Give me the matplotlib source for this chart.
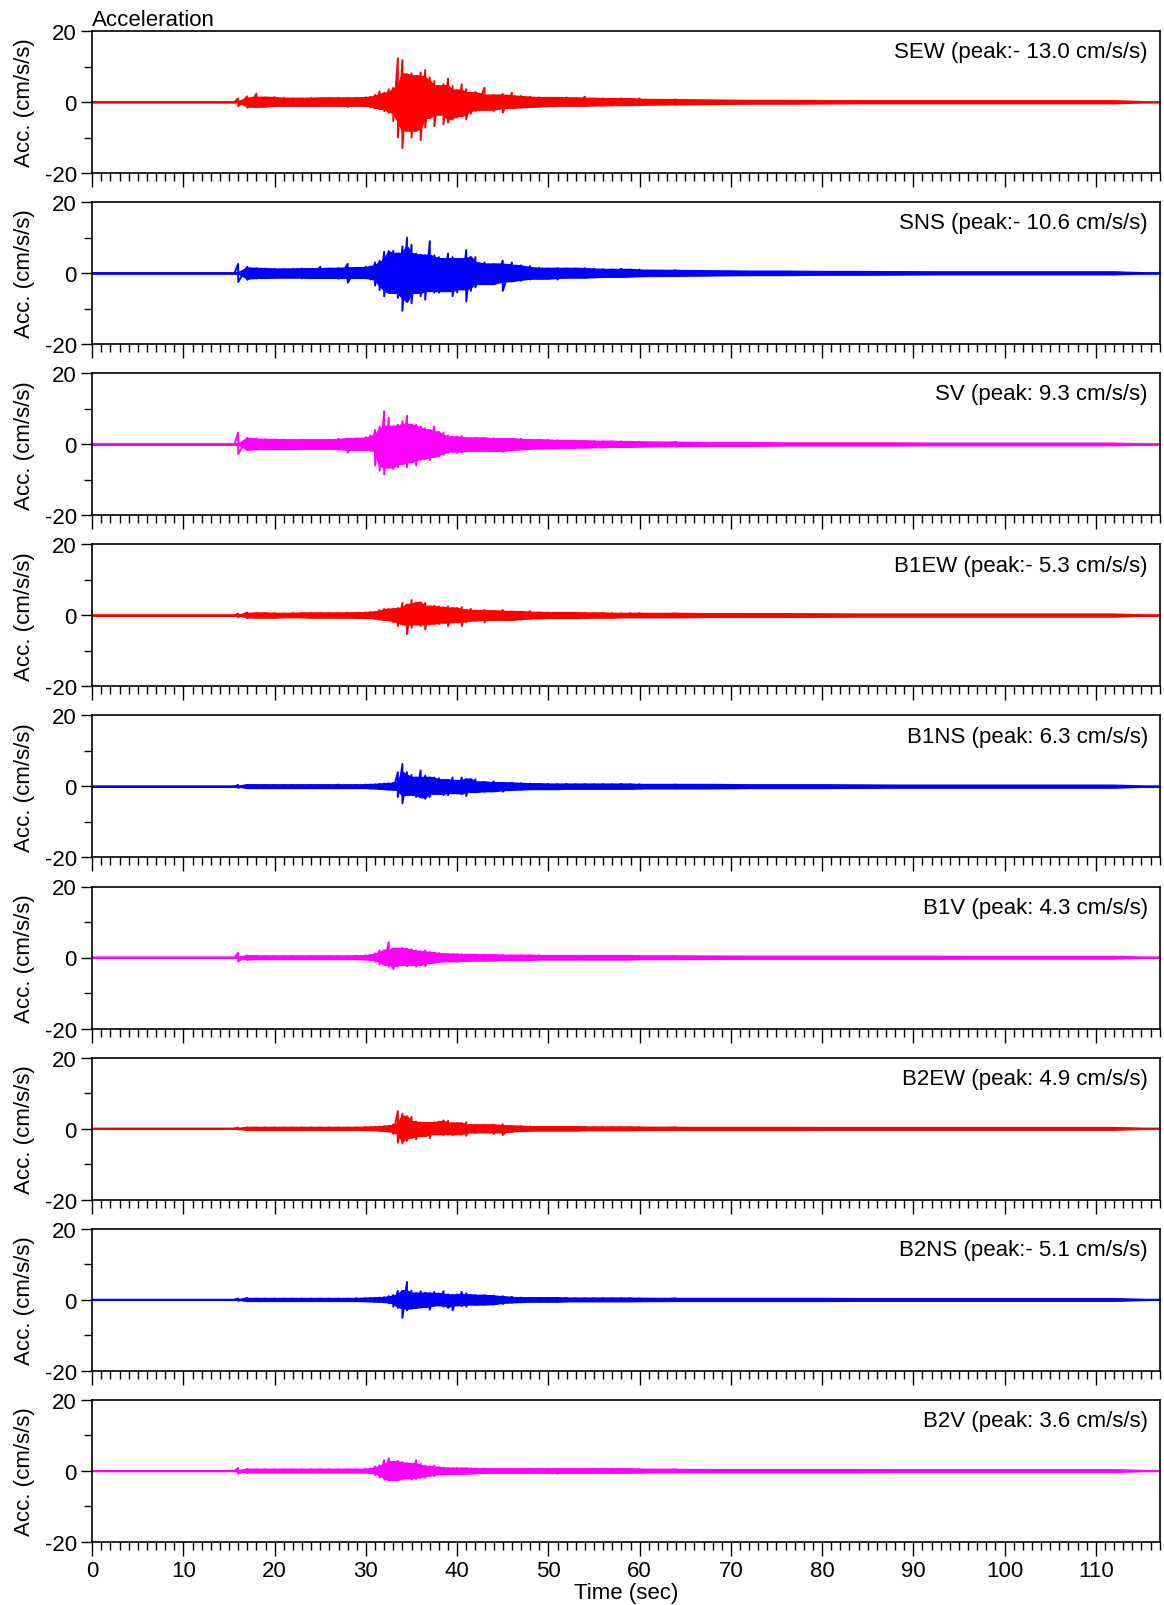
import matplotlib
matplotlib.use("Agg")
import matplotlib.pyplot as plt
from matplotlib.ticker import MultipleLocator
import numpy as np

plt.rcParams['font.family'] = ['Liberation Sans', 'DejaVu Sans']
plt.rcParams['axes.unicode_minus'] = False

# sampling grid of the envelope readings (s)
t_grid = np.concatenate([np.arange(16, 31), np.arange(30.5, 42.01, 0.5), np.arange(43, 61)])
t_tail = np.arange(64, 117, 4)
onset = 15.6
t_end = 117

names = ["SEW (peak:- 13.0 cm/s/s)", "SNS (peak:- 10.6 cm/s/s)", "SV (peak: 9.3 cm/s/s)",
         "B1EW (peak:- 5.3 cm/s/s)", "B1NS (peak: 6.3 cm/s/s)", "B1V (peak: 4.3 cm/s/s)",
         "B2EW (peak: 4.9 cm/s/s)", "B2NS (peak:- 5.1 cm/s/s)", "B2V (peak: 3.6 cm/s/s)"]
colors = ['#ff0000', '#0000ff', '#ff00ff'] * 3

# upper / lower extremes of the trace read at t_grid (cm/s/s)
sew_up = [1.0, 1.6, 2.3, 1.3, 1.4, 1.2, 1.0, 1.0, 1.1, 1.1, 1.1, 1.2, 1.1, 1.2, 1.3,
          1.5, 2.0, 3.0, 2.5, 3.6, 4.0, 12.3, 11.8, 7.8, 8.1, 7.3, 8.3, 9.0, 6.9, 5.9, 4.5, 5.0, 6.6, 4.5, 3.3, 5.0, 3.6, 2.6, 2.8,
          4.0, 1.9, 2.3, 2.6, 1.7, 1.5, 1.3, 1.2, 1.2, 1.3, 1.1, 1.5, 1.0, 1.0, 0.9, 1.0, 0.9, 1.0]
sew_lo = [-1.2, -1.6, -1.5, -1.3, -1.2, -1.0, -1.0, -1.1, -1.0, -1.0, -1.1, -1.0, -1.4, -1.0, -1.2,
          -1.5, -1.8, -2.0, -2.6, -3.0, -5.4, -10.0, -13.0, -8.0, -10.0, -8.0, -10.8, -7.2, -4.4, -6.8, -3.5, -6.3, -5.8, -4.9, -4.4, -3.9, -4.9, -3.3, -2.5,
          -2.1, -2.5, -3.0, -1.6, -1.6, -1.4, -1.3, -1.2, -1.1, -1.0, -1.0, -1.0, -1.0, -0.9, -1.0, -0.8, -0.9, -0.9]
sns_up = [2.6, 1.8, 1.4, 1.3, 1.2, 1.1, 1.2, 1.3, 1.2, 1.8, 1.3, 1.4, 2.6, 1.5, 1.8,
          1.9, 3.0, 3.5, 6.0, 6.2, 6.3, 5.5, 7.5, 10.0, 8.0, 5.5, 5.2, 5.0, 9.0, 5.0, 4.5, 4.0, 5.5, 4.5, 4.0, 4.0, 6.5, 4.5, 4.5,
          3.0, 2.5, 3.5, 3.0, 2.2, 2.0, 1.5, 1.3, 1.4, 1.3, 1.3, 1.4, 1.2, 1.1, 1.0, 1.2, 1.0, 1.0]
sns_lo = [-2.5, -1.9, -1.5, -1.3, -1.3, -1.2, -1.2, -1.5, -1.3, -1.4, -1.3, -1.6, -2.7, -1.3, -1.5,
          -1.8, -3.5, -4.8, -6.5, -5.5, -5.5, -7.0, -10.6, -8.0, -8.5, -5.5, -6.5, -7.5, -5.0, -5.5, -5.5, -5.0, -5.0, -6.5, -5.5, -4.5, -8.0, -5.0, -4.0,
          -3.0, -3.0, -5.0, -2.3, -2.2, -1.8, -1.5, -1.5, -1.8, -1.3, -1.2, -1.3, -1.2, -1.1, -1.0, -1.0, -1.0, -0.9]
sv_up = [3.3, 1.8, 1.6, 1.4, 1.3, 1.3, 1.2, 1.3, 1.2, 1.2, 1.3, 1.5, 1.6, 1.6, 2.0,
         2.5, 4.0, 5.0, 9.3, 7.5, 5.0, 5.5, 6.5, 8.0, 5.5, 5.5, 5.0, 4.5, 4.0, 5.0, 3.5, 3.3, 2.5, 2.0, 2.2, 2.3, 1.8, 1.7, 1.8,
         1.8, 1.7, 1.5, 1.5, 1.5, 1.3, 1.2, 1.2, 1.1, 1.0, 1.0, 0.9, 0.9, 0.8, 0.8, 0.8, 0.7, 0.7]
sv_lo = [-2.8, -1.7, -1.5, -1.3, -1.4, -1.3, -1.3, -1.3, -1.2, -1.2, -1.3, -1.5, -2.4, -1.5, -1.5,
         -2.0, -6.0, -7.5, -8.5, -6.5, -7.0, -6.5, -5.5, -6.5, -5.0, -6.0, -4.5, -4.0, -4.5, -3.5, -3.5, -3.0, -2.5, -2.0, -2.5, -2.2, -2.0, -1.8, -1.8,
         -1.8, -2.0, -2.2, -1.8, -1.5, -1.4, -1.2, -1.1, -1.1, -1.0, -1.0, -0.9, -0.9, -0.8, -0.8, -0.7, -0.7, -0.7]
b1ew_up = [0.5, 0.8, 0.6, 0.6, 0.6, 0.5, 0.6, 0.6, 0.6, 0.6, 0.6, 0.6, 0.7, 0.7, 0.8,
           0.9, 1.0, 1.5, 1.8, 1.7, 1.9, 2.0, 3.5, 3.0, 4.3, 3.5, 3.7, 3.5, 2.5, 2.6, 2.5, 2.2, 2.5, 2.0, 2.0, 2.3, 1.5, 1.8, 1.3,
           1.5, 1.2, 1.5, 1.1, 1.0, 1.2, 0.8, 0.8, 0.7, 0.7, 0.7, 0.7, 0.6, 0.6, 0.6, 0.5, 0.6, 0.6]
b1ew_lo = [-0.5, -0.8, -0.6, -0.6, -0.6, -0.6, -0.5, -0.6, -0.6, -0.6, -0.6, -0.6, -0.6, -0.7, -0.7,
           -0.8, -1.0, -1.2, -1.3, -1.5, -2.0, -3.0, -2.5, -5.3, -3.5, -2.5, -3.0, -4.0, -2.5, -2.3, -2.5, -2.0, -3.0, -2.0, -1.8, -3.0, -2.0, -1.5, -1.4,
           -2.0, -1.2, -1.3, -1.2, -1.2, -1.0, -0.8, -0.8, -0.7, -0.8, -0.7, -0.7, -0.6, -0.6, -0.6, -0.6, -0.5, -0.5]
b1ns_up = [0.4, 0.4, 0.4, 0.4, 0.4, 0.4, 0.4, 0.4, 0.4, 0.4, 0.4, 0.5, 0.4, 0.4, 0.5,
           0.5, 0.6, 0.7, 0.8, 0.8, 1.0, 4.0, 6.3, 4.0, 3.2, 2.5, 4.5, 3.0, 2.5, 2.5, 2.3, 1.8, 1.8, 2.5, 1.6, 2.5, 2.0, 2.0, 2.0,
           1.2, 1.4, 1.0, 1.0, 0.9, 0.8, 0.7, 0.7, 0.6, 0.7, 0.6, 0.6, 0.6, 0.6, 0.6, 0.7, 0.6, 0.6]
b1ns_lo = [-0.4, -0.4, -0.4, -0.4, -0.4, -0.4, -0.4, -0.4, -0.4, -0.4, -0.4, -0.4, -0.4, -0.4, -0.5,
           -0.5, -0.6, -0.7, -0.8, -0.8, -1.0, -3.0, -4.8, -2.5, -2.3, -3.0, -3.0, -3.5, -3.0, -2.0, -2.0, -2.5, -2.5, -1.8, -2.0, -2.0, -2.7, -1.5, -1.5,
           -1.5, -1.3, -1.5, -1.0, -0.9, -0.8, -0.7, -0.7, -0.7, -0.7, -0.6, -0.6, -0.6, -0.6, -0.6, -0.6, -0.7, -0.6]
b1v_up = [1.3, 0.6, 0.5, 0.4, 0.4, 0.4, 0.4, 0.4, 0.4, 0.4, 0.4, 0.4, 0.4, 0.5, 0.6,
          0.8, 1.2, 2.0, 2.0, 4.3, 2.5, 2.5, 2.7, 2.5, 2.3, 2.0, 1.7, 2.0, 1.5, 1.4, 1.3, 1.0, 1.0, 0.9, 0.9, 0.9, 0.8, 0.8, 0.8,
          0.7, 0.7, 0.7, 0.6, 0.6, 0.6, 0.6, 0.5, 0.5, 0.5, 0.5, 0.5, 0.5, 0.5, 0.5, 0.5, 0.5, 0.5]
b1v_lo = [-1.1, -0.6, -0.5, -0.4, -0.4, -0.4, -0.4, -0.4, -0.4, -0.4, -0.4, -0.4, -0.4, -0.5, -0.5,
          -0.8, -1.2, -2.0, -2.0, -2.5, -3.3, -2.5, -2.0, -2.5, -2.0, -2.6, -2.0, -2.5, -1.5, -1.5, -1.3, -1.1, -1.0, -1.0, -1.2, -1.0, -0.9, -1.0, -0.8,
          -0.8, -0.8, -0.8, -0.6, -0.6, -0.6, -0.6, -0.5, -0.5, -0.5, -0.5, -0.5, -0.5, -0.5, -0.5, -0.5, -0.5, -0.5]
b2ew_up = [0.3, 0.3, 0.3, 0.3, 0.3, 0.3, 0.3, 0.3, 0.3, 0.3, 0.3, 0.3, 0.3, 0.35, 0.4,
           0.4, 0.5, 0.6, 0.7, 0.8, 1.2, 4.9, 4.2, 3.5, 3.3, 2.0, 1.8, 1.6, 1.6, 1.8, 2.0, 2.3, 2.2, 1.5, 1.5, 1.5, 1.8, 1.0, 1.0,
           1.0, 1.0, 1.2, 0.8, 0.7, 0.6, 0.5, 0.5, 0.5, 0.5, 0.5, 0.5, 0.4, 0.4, 0.4, 0.4, 0.4, 0.4]
b2ew_lo = [-0.3, -0.3, -0.3, -0.3, -0.3, -0.3, -0.3, -0.3, -0.3, -0.3, -0.3, -0.3, -0.3, -0.35, -0.4,
           -0.4, -0.5, -0.6, -0.7, -0.8, -1.5, -4.0, -4.2, -3.5, -2.5, -3.0, -2.0, -2.0, -2.7, -1.5, -1.5, -1.8, -1.5, -1.8, -1.5, -1.6, -2.0, -1.0, -1.2,
           -1.0, -1.5, -1.8, -1.0, -0.7, -0.6, -0.5, -0.5, -0.5, -0.5, -0.5, -0.5, -0.4, -0.4, -0.4, -0.4, -0.4, -0.4]
b2ns_up = [0.3, 0.5, 0.3, 0.3, 0.3, 0.3, 0.3, 0.3, 0.3, 0.3, 0.3, 0.3, 0.3, 0.4, 0.4,
           0.5, 0.5, 0.6, 0.7, 1.0, 1.3, 2.5, 2.5, 5.0, 2.5, 1.8, 2.4, 2.0, 1.8, 2.2, 1.7, 2.4, 1.5, 1.3, 1.5, 2.2, 1.8, 1.3, 1.3,
           1.2, 1.2, 1.0, 0.8, 0.6, 0.5, 0.5, 0.5, 0.5, 0.5, 0.4, 0.4, 0.4, 0.4, 0.4, 0.4, 0.4, 0.4]
b2ns_lo = [-0.3, -0.4, -0.3, -0.3, -0.3, -0.3, -0.3, -0.3, -0.3, -0.3, -0.3, -0.3, -0.3, -0.4, -0.4,
           -0.5, -0.5, -0.6, -0.7, -1.0, -2.0, -2.3, -5.1, -3.0, -2.5, -2.3, -2.2, -2.0, -2.8, -1.8, -1.5, -2.0, -2.3, -3.0, -1.5, -1.8, -2.0, -1.3, -1.5,
           -1.3, -1.3, -1.2, -0.8, -0.7, -0.6, -0.5, -0.5, -0.5, -0.5, -0.4, -0.4, -0.4, -0.4, -0.4, -0.4, -0.4, -0.4]
b2v_up = [0.8, 0.5, 0.4, 0.4, 0.4, 0.4, 0.4, 0.4, 0.4, 0.4, 0.4, 0.4, 0.4, 0.4, 0.5,
          0.7, 1.2, 1.5, 3.0, 3.6, 2.5, 2.8, 2.5, 2.2, 2.0, 3.0, 2.0, 1.5, 1.2, 1.5, 1.0, 0.9, 0.8, 0.7, 0.8, 0.7, 0.7, 0.7, 0.6,
          0.6, 0.5, 0.5, 0.5, 0.5, 0.5, 0.5, 0.5, 0.5, 0.5, 0.5, 0.5, 0.5, 0.5, 0.5, 0.5, 0.5, 0.5]
b2v_lo = [-0.8, -0.5, -0.4, -0.4, -0.4, -0.4, -0.4, -0.4, -0.4, -0.4, -0.4, -0.4, -0.4, -0.4, -0.5,
          -0.6, -1.2, -2.0, -2.5, -2.8, -2.5, -2.6, -2.5, -2.0, -2.5, -2.3, -1.8, -2.0, -1.3, -1.5, -1.0, -0.9, -0.9, -0.8, -0.8, -0.8, -0.8, -0.7, -0.7,
          -0.6, -0.5, -0.5, -0.5, -0.5, -0.5, -0.5, -0.5, -0.8, -0.5, -0.5, -0.5, -0.5, -0.5, -0.5, -0.5, -0.5, -0.5]

# late-coda half-width read at t_tail (cm/s/s)
sew_tail = [0.7, 0.6, 0.5, 0.4, 0.4, 0.35, 0.3, 0.3, 0.3, 0.3, 0.3, 0.3, 0.3, 0.3]
sns_tail = [0.8, 0.7, 0.6, 0.5, 0.5, 0.4, 0.4, 0.35, 0.3, 0.3, 0.3, 0.3, 0.3, 0.3]
sv_tail = [0.6, 0.5, 0.4, 0.4, 0.3, 0.3, 0.3, 0.3, 0.25, 0.25, 0.25, 0.25, 0.25, 0.25]
b1ew_tail = [0.5, 0.5, 0.4, 0.4, 0.4, 0.35, 0.3, 0.3, 0.3, 0.3, 0.3, 0.3, 0.3, 0.3]
b1ns_tail = [0.5, 0.5, 0.5, 0.4, 0.4, 0.4, 0.35, 0.3, 0.3, 0.3, 0.3, 0.3, 0.3, 0.3]
b1v_tail = [0.4, 0.4, 0.35, 0.3, 0.3, 0.3, 0.3, 0.3, 0.3, 0.25, 0.25, 0.25, 0.25, 0.25]
b2ew_tail = [0.35, 0.3, 0.3, 0.3, 0.3, 0.25, 0.25, 0.25, 0.25, 0.25, 0.25, 0.25, 0.25, 0.25]
b2ns_tail = [0.35, 0.3, 0.3, 0.3, 0.3, 0.3, 0.25, 0.25, 0.25, 0.25, 0.25, 0.25, 0.25, 0.25]
b2v_tail = [0.4, 0.35, 0.3, 0.3, 0.3, 0.3, 0.3, 0.25, 0.25, 0.25, 0.25, 0.25, 0.25, 0.25]

ups = [sew_up, sns_up, sv_up, b1ew_up, b1ns_up, b1v_up, b2ew_up, b2ns_up, b2v_up]
los = [sew_lo, sns_lo, sv_lo, b1ew_lo, b1ns_lo, b1v_lo, b2ew_lo, b2ns_lo, b2v_lo]
tails = [sew_tail, sns_tail, sv_tail, b1ew_tail, b1ns_tail, b1v_tail, b2ew_tail, b2ns_tail, b2v_tail]

W, H = 1164, 1606
fig = plt.figure(figsize=(W / 100, H / 100), dpi=100)

left_px, right_px = 92.2, 1159.7
top0, step, h = 32.0, 171.1, 142.0
fs = 16

for i in range(9):
    top = top0 + step * i
    ax = fig.add_axes([left_px / W, 1 - (top + h) / H, (right_px - left_px) / W, h / H])
    c = colors[i]

    t = np.concatenate([[0, onset], t_grid, t_tail, [t_end]])
    up = np.concatenate([[0, 0], ups[i], tails[i], [0]])
    lo = np.concatenate([[0, 0], los[i], -np.array(tails[i]), [0]])

    # solid body of the trace: the smaller of neighbouring readings
    pu = np.pad(up, 1, mode='edge')
    pl = np.pad(lo, 1, mode='edge')
    core_up = np.minimum(np.minimum(pu[:-2], pu[1:-1]), pu[2:])
    core_lo = np.maximum(np.maximum(pl[:-2], pl[1:-1]), pl[2:])
    ax.fill_between(t, core_lo, core_up, color=c, lw=1.2)
    ax.plot(t, core_up, color=c, lw=1.2)
    ax.plot(t, core_lo, color=c, lw=1.2)

    # one stroke per reading, from its maximum to its minimum
    n = len(t_grid) + 2
    ax.plot(np.repeat(t[1:1 + n], 2), np.column_stack([up[1:1 + n], lo[1:1 + n]]).ravel(), color=c, lw=1.4)

    ax.set_xlim(0, t_end)
    ax.set_ylim(-20, 20)
    ax.set_yticks([-20, 0, 20])
    ax.yaxis.set_minor_locator(MultipleLocator(10))
    ax.xaxis.set_major_locator(MultipleLocator(10))
    ax.xaxis.set_minor_locator(MultipleLocator(1))
    ax.tick_params(which='major', direction='out', length=8, width=1, labelsize=fs, pad=3)
    ax.tick_params(which='minor', direction='out', length=6, width=1)
    ax.tick_params(axis='x', which='major', length=10, pad=3)
    for s in ax.spines.values():
        s.set_linewidth(1.2)
    ax.set_ylabel('Acc. (cm/s/s)', fontsize=fs)
    ax.yaxis.set_label_coords(-0.054, 0.5)
    ax.text(0.989, 0.815, names[i], transform=ax.transAxes, ha='right', va='baseline', fontsize=fs)
    if i == 0:
        ax.text(0.0, 1.01, 'Acceleration', transform=ax.transAxes, ha='left', va='bottom', fontsize=fs)
    if i < 8:
        ax.tick_params(axis='x', labelbottom=False)
    else:
        ax.set_xlabel('Time (sec)', fontsize=fs, labelpad=1)

fig.savefig('out.png', dpi=100)
